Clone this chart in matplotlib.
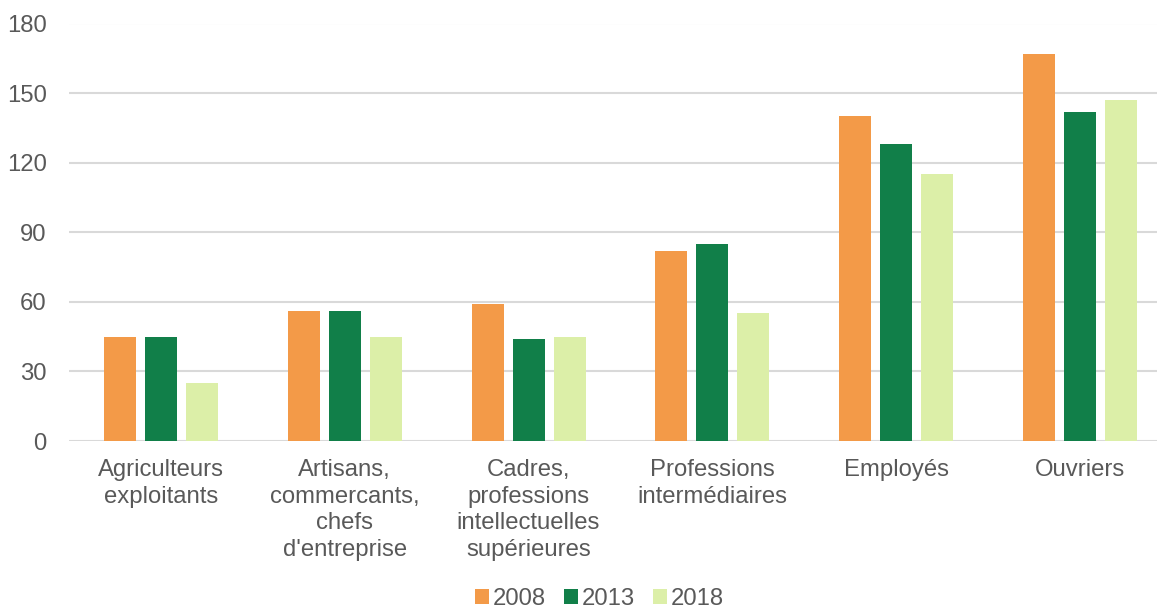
import numpy as np
import matplotlib.pyplot as plt
from matplotlib.patches import Patch

plt.rcParams['font.family'] = ['Liberation Sans', 'DejaVu Sans']

categories = [
    "Agriculteurs\nexploitants",
    "Artisans,\ncommercants,\nchefs\nd'entreprise",
    "Cadres,\nprofessions\nintellectuelles\nsupérieures",
    "Professions\nintermédiaires",
    "Employés",
    "Ouvriers",
]
years = ["2008", "2013", "2018"]
v2008 = [45, 56, 59, 82, 140, 167]
v2013 = [45, 56, 44, 85, 128, 142]
v2018 = [25, 45, 45, 55, 115, 147]
colors = ["#F39A48", "#117F49", "#DCEFA8"]

text_col = "#595959"

fig = plt.figure(figsize=(11.57, 6.14), dpi=100)
ax = fig.add_axes([69 / 1157, 173 / 614, 1 - 69 / 1157, (590.5 - 173) / 614])

x = np.arange(len(categories))
w = 0.174
step = 0.223
for i, (vals, c) in enumerate(zip([v2008, v2013, v2018], colors)):
    ax.bar(x + (i - 1) * step, vals, width=w, color=c, zorder=3)

ax.set_ylim(0, 180)
ax.set_yticks(range(0, 181, 30))
ax.set_xlim(-0.5, 5 + (1157 - 1080) / 183.8)
ax.set_xticks(x)
ax.set_xticklabels(categories, linespacing=1.27)
ax.grid(axis='y', color="#d9d9d9", linewidth=1.5, zorder=0)
for s in ax.spines.values():
    s.set_visible(False)
ax.tick_params(axis='both', length=0, labelsize=17.2, colors=text_col)
ax.tick_params(axis='y', pad=16)
ax.tick_params(axis='x', pad=13)

handles = [Patch(facecolor=c, edgecolor='none') for c in colors]
fig.legend(handles, years, loc='lower center', bbox_to_anchor=(0.518, -0.028),
           ncol=3, frameon=False, fontsize=17.2, handlelength=0.6, handleheight=0.6,
           handletextpad=0.15, columnspacing=0.75, labelcolor=text_col)

fig.savefig("out.png", dpi=100)
